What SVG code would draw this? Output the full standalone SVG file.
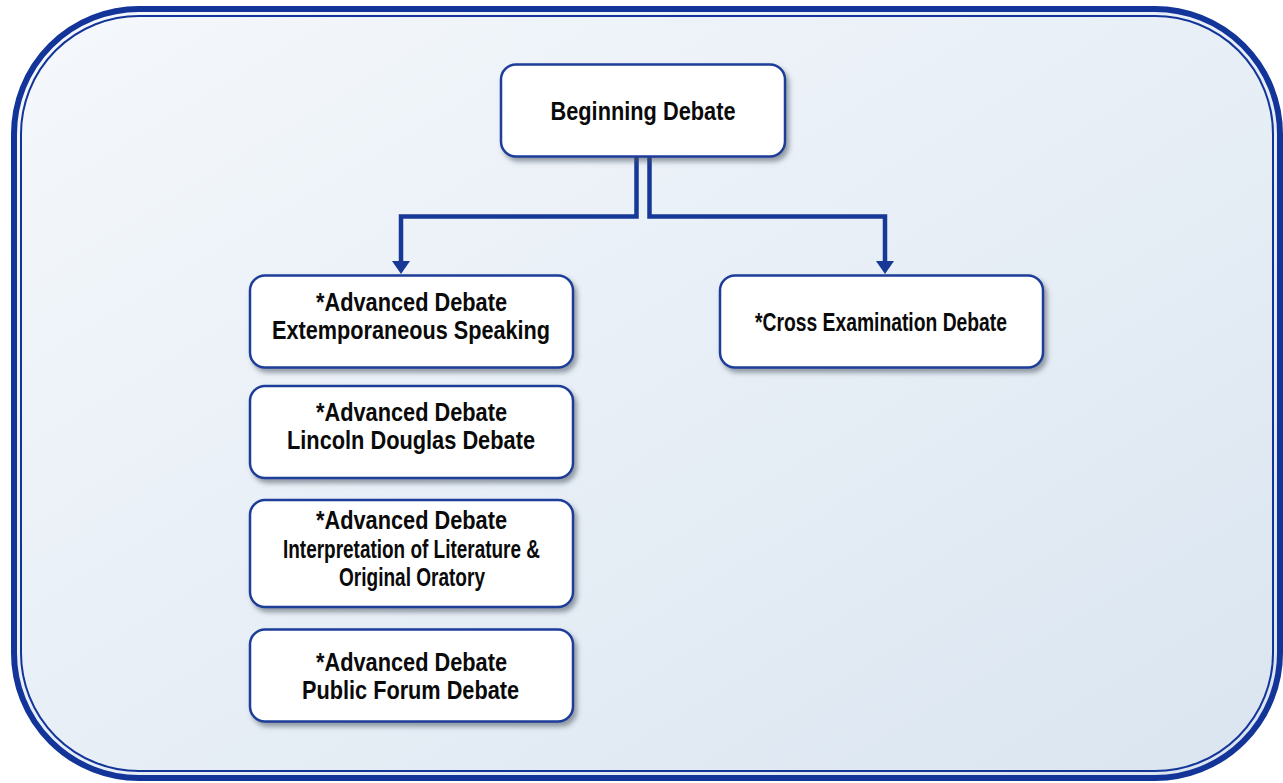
<svg xmlns="http://www.w3.org/2000/svg" width="1283" height="783" viewBox="0 0 1283 783">
<defs>
<linearGradient id="bg" x1="0" y1="0" x2="1" y2="1">
<stop offset="0" stop-color="#f5f8fc"/>
<stop offset="1" stop-color="#dae5f0"/>
</linearGradient>
<filter id="sh" x="-10%" y="-10%" width="130%" height="140%">
<feDropShadow dx="3" dy="4" stdDeviation="2.5" flood-color="#4a5260" flood-opacity="0.55"/>
</filter>
<style>
.box{fill:#ffffff;stroke:#1d3d98;stroke-width:2.5;filter:url(#sh)}
.t{font-family:"Liberation Sans",Arial,sans-serif;font-weight:bold;font-size:25px;fill:#0a0a0a;text-anchor:middle}
.ln{fill:none;stroke:#163896;stroke-width:4.5}
.ah{fill:#163896}
</style>
</defs>
<rect x="0" y="0" width="1283" height="783" fill="#ffffff"/>
<g id="frame">
<rect x="14" y="9" width="1266" height="769" rx="125" ry="125" fill="url(#bg)" stroke="#13359a" stroke-width="6"/>
<rect x="21" y="16" width="1252" height="755" rx="118" ry="118" fill="none" stroke="#13359a" stroke-width="2"/>
</g>
<g id="connectors">
<polyline class="ln" points="636.5,157 636.5,216.5 401,216.5 401,264"/>
<polygon class="ah" points="392,261 410,261 401,274"/>
<polyline class="ln" points="649.5,157 649.5,216.5 885,216.5 885,264"/>
<polygon class="ah" points="876,261 894,261 885,274"/>
</g>
<g id="beginning">
<rect class="box" x="501" y="64.5" width="284" height="92" rx="15"/>
<text class="t" x="643" y="119.5" textLength="185" lengthAdjust="spacingAndGlyphs">Beginning Debate</text>
</g>
<g id="extemp">
<rect class="box" x="250" y="275.5" width="323" height="92" rx="15"/>
<text class="t" x="411.5" y="310.5" textLength="191" lengthAdjust="spacingAndGlyphs">*Advanced Debate</text>
<text class="t" x="411" y="338.5" textLength="278" lengthAdjust="spacingAndGlyphs">Extemporaneous Speaking</text>
</g>
<g id="lincoln">
<rect class="box" x="250" y="386" width="323" height="92" rx="15"/>
<text class="t" x="411.5" y="420.5" textLength="191" lengthAdjust="spacingAndGlyphs">*Advanced Debate</text>
<text class="t" x="411" y="448.5" textLength="248" lengthAdjust="spacingAndGlyphs">Lincoln Douglas Debate</text>
</g>
<g id="interp">
<rect class="box" x="250" y="500" width="323" height="107" rx="15"/>
<text class="t" x="411.5" y="528.5" textLength="191" lengthAdjust="spacingAndGlyphs">*Advanced Debate</text>
<text class="t" x="411.5" y="557.5" textLength="257" lengthAdjust="spacingAndGlyphs">Interpretation of Literature &amp;</text>
<text class="t" x="412" y="585.5" textLength="146" lengthAdjust="spacingAndGlyphs">Original Oratory</text>
</g>
<g id="publicforum">
<rect class="box" x="250" y="629.5" width="323" height="92" rx="15"/>
<text class="t" x="411.5" y="670.5" textLength="191" lengthAdjust="spacingAndGlyphs">*Advanced Debate</text>
<text class="t" x="410.5" y="698.5" textLength="217" lengthAdjust="spacingAndGlyphs">Public Forum Debate</text>
</g>
<g id="crossexam">
<rect class="box" x="720" y="275.5" width="323" height="92" rx="15"/>
<text class="t" x="881" y="330.5" textLength="252" lengthAdjust="spacingAndGlyphs">*Cross Examination Debate</text>
</g>
</svg>
